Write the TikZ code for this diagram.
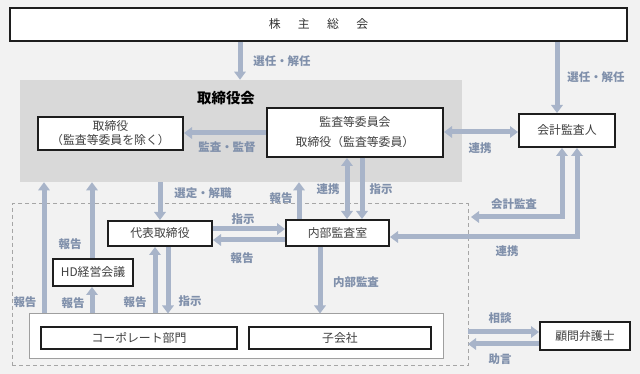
\documentclass[tikz,border=0pt]{standalone}
\usepackage{fontspec}
\setmainfont{Noto Sans CJK JP}
\usetikzlibrary{arrows.meta,fit}
\definecolor{bg}{HTML}{F2F2F2}
\definecolor{boardgray}{HTML}{D9D9D9}
\definecolor{arrowc}{HTML}{A8B4C9}
\definecolor{labelc}{HTML}{8090AB}
\definecolor{txt}{HTML}{404040}
\definecolor{framec}{HTML}{1E1E1E}
\definecolor{dashc}{HTML}{A6A6A6}
\tikzset{
 box/.style={draw=framec, line width=1.5pt, fill=white, inner sep=0pt},
 btext/.style={inner sep=0pt, text=txt, font=\fontsize{8.9}{10.5}\selectfont, align=center},
 lbl/.style={text=labelc, font=\fontsize{8.6}{10}\selectfont\bfseries, inner sep=0pt},
 arr/.style={draw=arrowc, line width=3.75pt, line join=miter, -{Triangle[width=8.5pt,length=6pt]}},
 darr/.style={draw=arrowc, line width=3.75pt, line join=miter,
   {Triangle[width=8.5pt,length=6pt]}-{Triangle[width=8.5pt,length=6pt]}},
}
\begin{document}
\begin{tikzpicture}[x=0.75pt,y=-0.75pt]
\fill[bg] (0,0) rectangle (640,374);
\useasboundingbox (0,0) rectangle (640,374);
% regions
\node[fill=boardgray, inner sep=0pt, fit={(20,80) (462,182)}] (board) {};
\node[draw=dashc, dash pattern=on 3pt off 2.25pt, line width=0.75pt, inner sep=0pt, fit={(12,204) (468,366)}] (grp) {};
\node[fill=white, draw=gray!75, line width=0.75pt, inner sep=0pt, fit={(29,314) (443,359)}] (outer) {};
% boxes
\node[box, fit={(10,8) (627,41)}] (gm) {};
\node[btext, text=black!80] (gmt) at (gm.center) {株\hspace{13pt}主\hspace{13pt}総\hspace{13pt}会};
\node[font=\fontsize{10.8}{12}\selectfont\bfseries, text=black, inner sep=0pt] (boardt) at (226,98) {取締役会};
\node[box, fit={(38,117) (183,150)}] (dir) {};
\node[btext] (dirt) at (dir.center) {取締役\\（監査等委員を除く）};
\node[box, fit={(267,108) (443,157)}] (ac) {};
\node[btext, font=\fontsize{8.9}{15}\selectfont] (act) at (ac.center) {監査等委員会\\取締役（監査等委員）};
\node[box, fit={(519,114) (615,147)}] (aud) {};
\node[btext] (audt) at (aud.center) {会計監査人};
\node[box, fit={(108,221) (212,246)}] (rep) {};
\node[btext] (rept) at (rep.center) {代表取締役};
\node[box, fit={(286,220) (389,246)}] (ia) {};
\node[btext] (iat) at (ia.center) {内部監査室};
\node[box, fit={(53,259) (133,286)}] (hd) {};
\node[btext] (hdt) at (hd.center) {HD経営会議};
\node[box, fit={(41,327) (237,349)}] (corp) {};
\node[btext] (corpt) at (corp.center) {コーポレート部門};
\node[box, fit={(249,327) (431,349)}] (sub) {};
\node[btext] (subt) at (sub.center) {子会社};
\node[box, fit={(540,322) (630,350)}] (law) {};
\node[btext] (lawt) at (law.center) {顧問弁護士};
% helper coordinates
\coordinate (x1) at (240,0);
\coordinate (x2) at (557,0);
\coordinate (y3) at (0,133);
\coordinate (y4) at (0,132);
\coordinate (x5) at (160,0);
\coordinate (x6) at (299,0);
\coordinate (x7) at (347,0);
\coordinate (x8) at (362,0);
\coordinate (x9) at (562,0);
\coordinate (c9) at (471,217);
\coordinate (x10) at (577,0);
\coordinate (y10) at (0,237);
\coordinate (y11) at (0,229);
\coordinate (y12) at (0,240);
\coordinate (x13) at (320,0);
\coordinate (x14) at (44,0);
\coordinate (x15) at (92,0);
\coordinate (x16) at (155,0);
\coordinate (x17) at (168,0);
\coordinate (c18) at (468,332);
\coordinate (c19) at (468,344);
% arrows
\draw[arr] (gm.south -| x1) -- (board.north -| x1);
\draw[arr] (gm.south -| x2) -- (aud.north -| x2);
\draw[arr] (ac.west |- y3) -- (dir.east |- y3);
\draw[darr] (ac.east |- y4) -- (aud.west |- y4);
\draw[arr] (board.south -| x5) -- (rep.north -| x5);
\draw[arr] (ia.north -| x6) -- (board.south -| x6);
\draw[darr] (ac.south -| x7) -- (ia.north -| x7);
\draw[arr] (ac.south -| x8) -- (ia.north -| x8);
\draw[darr] (aud.south -| x9) |- (c9);
\draw[darr] (aud.south -| x10) |- (ia.east |- y10);
\draw[arr] (rep.east |- y11) -- (ia.west |- y11);
\draw[arr] (ia.west |- y12) -- (rep.east |- y12);
\draw[arr] (ia.south -| x13) -- (outer.north -| x13);
\draw[arr] (outer.north -| x14) -- (board.south -| x14);
\draw[arr] (hd.north -| x15) -- (board.south -| x15);
\draw[arr] (outer.north -| x15) -- (hd.south -| x15);
\draw[arr] (outer.north -| x16) -- (rep.south -| x16);
\draw[arr] (rep.south -| x17) -- (outer.north -| x17);
\draw[arr] (c18) -- (law.west |- c18);
\draw[arr] (law.west |- c19) -- (c19);
% labels
\node[lbl] (l1) at (282,61) {選任・解任};
\node[lbl] (l2) at (596,77) {選任・解任};
\node[lbl] (l3) at (227,147) {監査・監督};
\node[lbl] (l4) at (480,148) {連携};
\node[lbl] (l5) at (203,193) {選定・解職};
\node[lbl] (l6) at (281,198) {報告};
\node[lbl] (l7) at (328,189) {連携};
\node[lbl] (l8) at (381,189) {指示};
\node[lbl] (l9) at (514,204) {会計監査};
\node[lbl] (l10) at (507,251) {連携};
\node[lbl] (l11) at (243,219) {指示};
\node[lbl] (l12) at (242,258) {報告};
\node[lbl] (l13) at (356,282) {内部監査};
\node[lbl] (l14) at (70,244) {報告};
\node[lbl] (l15) at (25,302) {報告};
\node[lbl] (l16) at (73,303) {報告};
\node[lbl] (l17) at (135,302) {報告};
\node[lbl] (l18) at (190,301) {指示};
\node[lbl] (l19) at (500,318) {相談};
\node[lbl] (l20) at (500,359) {助言};
\end{tikzpicture}
\end{document}
